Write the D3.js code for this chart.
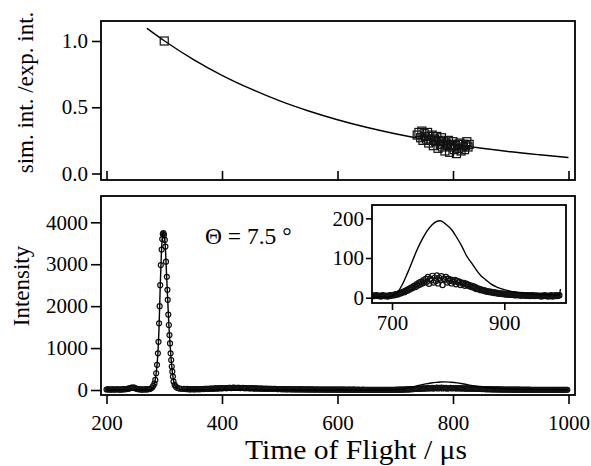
<!DOCTYPE html>
<html><head><meta charset="utf-8">
<script src="https://cdn.jsdelivr.net/npm/d3@7/dist/d3.min.js"></script>
<style>
body{margin:0;background:#fff}
text{font-family:"Liberation Serif","Times New Roman",serif;fill:#000}
</style>
</head><body>
<svg id="c" width="591" height="466"></svg>
<script>
// ---------- DATA ----------
// top panel: ratio sim. int. / exp. int.
const ratioTof = [300,738,741,744,746,748,750,752,754,756,758,760,762,764,766,768,770,772,774,776,778,780,782,784,786,788,790,792,794,796,798,800,802,804,806,808,810,812,814,816,818,820,822,824,826,828];
const ratioVal = [1.0,0.29,0.31,0.27,0.32,0.25,0.30,0.28,0.26,0.31,0.23,0.28,0.25,0.29,0.21,0.26,0.24,0.28,0.19,0.25,0.22,0.27,0.20,0.24,0.17,0.23,0.21,0.25,0.16,0.22,0.20,0.24,0.18,0.21,0.15,0.22,0.19,0.23,0.17,0.20,0.22,0.18,0.21,0.24,0.20,0.22];
// top panel: fitted decay curve
const fitTof = [270,300,350,400,450,500,550,600,650,700,750,800,850,900,950,1000];
const fitVal = [1.096,1.002,0.862,0.741,0.638,0.548,0.472,0.406,0.349,0.300,0.258,0.222,0.191,0.164,0.1415,0.121];

// bottom panel: experimental TOF (circles)
const expTofA = [200,202,204,206,208,210,212,214,216,218,220,222,224,226,228,230,232,234,236,238,240,242,244,246,248,250,252,254,256,258,260,262,264,266,268,270,272,274,276];
const expIntA = [12,16,15,9,10,17,14,10,12,18,16,9,11,15,14,20,18,22,25,32,40,50,60,58,55,42,30,22,18,15,14,10,12,16,15,14,20,24,30];
const expTofB = [279,281,283,284.5,286,287.5,289,290,291,292,293,294,295.5,296.5,297.5,298.5,299.5,301,302,303,304.5,305.5,306,307,308,309,310,311,312,313,314,315,316,318,320,323,326,330];
const expIntB = [60,100,150,240,400,600,875,1150,1590,2000,2500,2980,3350,3600,3720,3740,3700,3580,3420,3060,2700,2390,2150,1800,1550,1310,1110,875,715,560,440,320,200,120,80,50,35,28];
const expTofC = [334,336,338,340,342,344,346,348,350,352,354,356,358,360,362,364,366,368,370,372,374,376,378,380,382,384,386,388,390,392,394,396,398,400,402,404,406,408,410,412,414,416,418,420,422,424,426,428,430,432,434,436,438,440,442,444,446,448,450,452,454,456,458,460,462,464,466,468,470,472,474,476,478,480,482,484,486,488,490,492,494,496,498,500,502,504,506,508,510,512,514,516,518,520,522,524,526,528,530,532,534,536,538,540,542,544,546,548,550,552,554,556,558,560,562,564,566,568,570,572,574,576,578,580,582,584,586,588,590,592,594,596,598,600,602,604,606,608,610,612,614,616,618,620,622,624,626,628,630,632,634,636,638,640,642,644,646,648,650,652,654,656,658,660,662,664,666,668,670,672,674,676,678];
const expIntC = [28,24,22,25,20,17,18,21,20,16, 18,22,22,19,20,24,24,21,26,27, 28,25,30,33,32,29,35,37,38,36, 40,43,42,39,45,48,46,44,48,51, 50,47,52,55,50,48,52,54,50,47, 48,51,47,44,45,48,44,41,42,44, 40,37,38,40,36,33,34,36,32,29, 30,33,30,27,28,30,26,24,25,27, 24,21,22,24,22,19,20,22,20,17, 18,20,18,15,17,18,16,14,16,17, 15,13,15,16,14,12,14,15,13,11, 13,14,12,10,12,13,12,10,11,12, 11,9,10,11,10,8,10,10,9,8, 9,10,9,7,8,9,8,7,8,9, 8,6,7,8,7,6,7,8,7,5, 6,7,6,5,6,7,6,5,6,6, 5,6,5,4,5,6,5,4,5,6, 5,4,5];
const expTofD = [680,682,684,686,688,690,692,694,696,698,700,702,704,706,708,710,712,714,716,718,720,722,724,726,728,730,732,734,736,738,740,742,744,746,748,750,752,754,756,758,760,762,764,766,768,770,772,774,776,778,780,782,784,786,788,790,792,794,796,798,800,802,804,806,808,810,812,814,816,818,820,822,824,826,828,830,832,834,836,838,840,842,844,846,848,850,852,854,856,858,860,862,864,866,868,870,872,874,876,878,880,882,884,886,888,890,892,894,896,898,900,902,904,906,908,910,912,914,916,918,920,922,924,926,928,930,932,934,936,938,940,942,944,946,948,950,952,954,956,958,960,962,964,966,968,970,972,974,976,978,980,982,984,986,988,990,992,994,996,998];
const expIntD = [3,5,6,4,4,5,3,4,6,5, 6,7,6,8,9,8,10,12,11,13, 15,14,17,19,18,22,21,25,24,28, 30,27,34,31,38,33,40,36,44,38, 47,40,52,35,48,44,55,38,50,42, 56,36,50,44,54,32,48,45,52,38, 48,42,46,36,44,40,45,34,42,38, 40,32,38,35,37,30,35,32,33,29, 31,27,29,25,27,22,24,21,22,19, 20,18,19,16,17,15,16,14,15,13, 14,12,13,11,12,10,11,10,11,9, 10,8,9,8,9,7,8,7,8,6, 8,6,7,6,7,5,7,6,6,5, 6,5,6,4,6,5,6,4,5,5, 5,4,5,3,5,4,6,4,5,3, 5,4,6,3,5,4,6,4,5,6];

// bottom panel: simulated TOF (line)
const simTof = [200,276,280,283,286,289,291,293,295,297,298.5,300,302,304,306,308,310,312,314,316,318,321,325,332,350,400,600,690,700,710,718,727,736,745,753,762,771,778,786,796,807,816,825,833,842,850,858,867,876,885,894,903,912,921,935,950,970,992,998,1000];
const simInt = [0,0,40,150,400,880,1500,2450,3250,3680,3760,3700,3380,2750,2150,1550,1100,720,430,230,120,60,25,8,2,1,1,1,4,14,32,60,91,122,145,167,183,191,194,185,170,150,128,105,87,70,56,45,35,28,23,19,16,14,11,9,8,7,7,22];

const topYTicks = [0, 0.5, 1.0];
const xTicks = [200, 400, 600, 800, 1000];
const mainYTicks = [0, 1000, 2000, 3000, 4000];
const insetXTicks = [700, 900];
const insetYTicks = [0, 100, 200];

// ---------- CHART ----------
(function(){
const svg = d3.select("#c");
const expTof = expTofA.concat(expTofB, expTofC, expTofD);
const expInt = expIntA.concat(expIntB, expIntC, expIntD);
const expData = expTof.map((t,i)=>({t, v: expInt[i]}));
const simData = simTof.map((t,i)=>({t, v: simInt[i]}));
const ratioData = ratioTof.map((t,i)=>({t, v: ratioVal[i]}));
const fitData = fitTof.map((t,i)=>({t, v: fitVal[i]}));

const x = d3.scaleLinear().domain([200,1000]).range([106.5,568.5]);
const yTop = d3.scaleLinear().domain([0,1]).range([173.5,41]);
const yMain = d3.scaleLinear().domain([0,4000]).range([390,222.3]);
const xIn = d3.scaleLinear().domain([700,900]).range([392,504.3]);
const yIn = d3.scaleLinear().domain([0,200]).range([297.7,218.3]);

const bTop = {x0:101, x1:575, y0:21, y1:180};
const bMain = {x0:101, x1:575, y0:196, y1:395};
const bIns = {x0:372, x1:566, y0:205, y1:303};

const defs = svg.append("defs");
function clip(id, b){
  defs.append("clipPath").attr("id", id).append("rect")
    .attr("x", b.x0).attr("y", b.y0).attr("width", b.x1-b.x0).attr("height", b.y1-b.y0);
}
clip("cTop", bTop); clip("cMain", bMain); clip("cIns", bIns);

function styleAxis(g, fs){
  g.attr("font-family", null).attr("font-size", null);
  g.select(".domain").remove();
  g.selectAll(".tick line").attr("stroke","#000").attr("stroke-width",1.6);
  g.selectAll(".tick text").attr("font-size", fs).attr("fill","#000")
    .style("font-family",'"Liberation Serif","Times New Roman",serif');
}
function frame(b){
  svg.append("rect").attr("x",b.x0).attr("y",b.y0).attr("width",b.x1-b.x0).attr("height",b.y1-b.y0)
    .attr("fill","none").attr("stroke","#000").attr("stroke-width",1.8);
}

// ---- top panel ----
const gTop = svg.append("g").attr("clip-path","url(#cTop)");
gTop.append("path").datum(fitData)
  .attr("d", d3.line().x(d=>x(d.t)).y(d=>yTop(d.v)).curve(d3.curveMonotoneX))
  .attr("fill","none").attr("stroke","#000").attr("stroke-width",1.4);
gTop.selectAll("rect.sq").data(ratioData).join("rect").attr("class","sq")
  .attr("x", d=>x(d.t)-4).attr("y", d=>yTop(d.v)-4).attr("width",8).attr("height",8)
  .attr("fill","none").attr("stroke","#111").attr("stroke-width",1.2);

svg.append("g").attr("transform",`translate(${bTop.x0},0)`)
  .call(d3.axisLeft(yTop).tickValues(topYTicks).tickFormat(d3.format(".1f")).tickSize(9).tickPadding(4))
  .call(g=>styleAxis(g,21));
svg.append("g").attr("transform",`translate(0,${bTop.y1})`)
  .call(d3.axisTop(x).tickValues(xTicks).tickFormat("").tickSize(9))
  .call(g=>styleAxis(g,21));
frame(bTop);

// ---- main panel ----
const gMain = svg.append("g").attr("clip-path","url(#cMain)");
gMain.selectAll("circle").data(expData).join("circle")
  .attr("cx", d=>x(d.t)).attr("cy", d=>yMain(d.v)).attr("r",2.5)
  .attr("fill","none").attr("stroke","#111").attr("stroke-width",1.2);
gMain.append("path").datum(simData)
  .attr("d", d3.line().x(d=>x(d.t)).y(d=>yMain(d.v)).curve(d3.curveMonotoneX))
  .attr("fill","none").attr("stroke","#000").attr("stroke-width",1.4);

svg.append("g").attr("transform",`translate(${bMain.x0},0)`)
  .call(d3.axisLeft(yMain).tickValues(mainYTicks).tickFormat(d3.format("d")).tickSize(10).tickPadding(3))
  .call(g=>styleAxis(g,21));
svg.append("g").attr("transform",`translate(0,${bMain.y1})`)
  .call(d3.axisBottom(x).tickValues(xTicks).tickFormat(d3.format("d")).tickSize(9).tickPadding(11))
  .call(g=>styleAxis(g,21));
frame(bMain);

// ---- inset ----
svg.append("rect").attr("x",bIns.x0).attr("y",bIns.y0).attr("width",bIns.x1-bIns.x0).attr("height",bIns.y1-bIns.y0).attr("fill","#fff");
const gIns = svg.append("g").attr("clip-path","url(#cIns)");
gIns.selectAll("circle").data(expData.filter(d=>d.t>=660)).join("circle")
  .attr("cx", d=>xIn(d.t)).attr("cy", d=>yIn(d.v)).attr("r",2.6)
  .attr("fill","none").attr("stroke","#111").attr("stroke-width",1.2);
gIns.append("path").datum(simData.filter(d=>d.t>=600))
  .attr("d", d3.line().x(d=>xIn(d.t)).y(d=>yIn(d.v)).curve(d3.curveMonotoneX))
  .attr("fill","none").attr("stroke","#000").attr("stroke-width",1.4);
svg.append("g").attr("transform",`translate(${bIns.x0},0)`)
  .call(d3.axisLeft(yIn).tickValues(insetYTicks).tickFormat(d3.format("d")).tickSize(6).tickPadding(2))
  .call(g=>styleAxis(g,21));
svg.append("g").attr("transform",`translate(0,${bIns.y1})`)
  .call(d3.axisBottom(xIn).tickValues(insetXTicks).tickFormat(d3.format("d")).tickSize(7).tickPadding(5))
  .call(g=>styleAxis(g,21));
frame(bIns);

// ---- labels ----
svg.append("text").attr("transform","translate(33,92.5) rotate(-90)").attr("text-anchor","middle")
  .attr("font-size",23).text("sim. int. /exp. int.");
svg.append("text").attr("transform","translate(29,286) rotate(-90)").attr("text-anchor","middle")
  .attr("font-size",23).text("Intensity");
svg.append("text").attr("x",356).attr("y",459).attr("text-anchor","middle")
  .attr("font-size",27).attr("textLength",222).attr("lengthAdjust","spacingAndGlyphs")
  .text("Time of Flight / μs");
svg.append("text").attr("x",205).attr("y",244).attr("font-size",23.5).text("Θ = 7.5 °");
})();
</script>
</body></html>
